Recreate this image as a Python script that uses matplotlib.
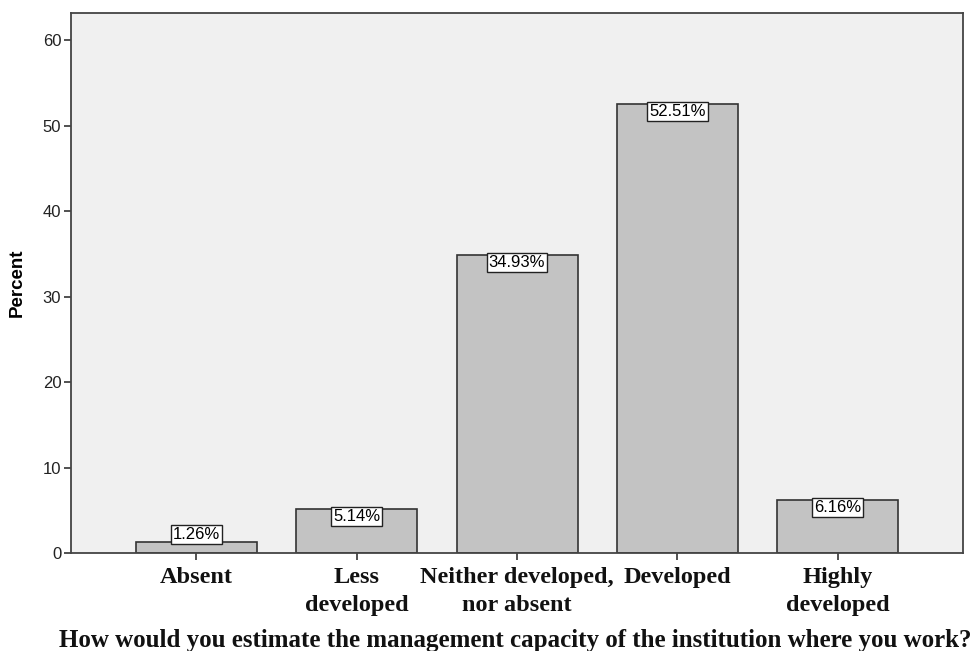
import matplotlib.pyplot as plt

# данные
categories = ["Absent", "Less\ndeveloped", "Neither developed,\nnor absent", "Developed", "Highly\ndeveloped"]
percents = [1.26, 5.14, 34.93, 52.51, 6.16]
bar_labels = ["1.26%", "5.14%", "34.93%", "52.51%", "6.16%"]
y_ticks = [0, 10, 20, 30, 40, 50, 60]

fig = plt.figure(figsize=(9.77, 6.51), dpi=100)
fig.patch.set_facecolor("white")
ax = fig.add_axes([0.0727, 0.1505, 0.913, 0.8295])
ax.set_facecolor("#f0f0f0")

x = list(range(len(categories)))
ax.bar(x, percents, width=0.754, color="#c3c3c3", edgecolor="#333333", linewidth=1.2, zorder=2)

# подписи в рамках
for xi, val, lab in zip(x, percents, bar_labels):
    va = "bottom" if val < 3 else "top"
    ax.text(xi, val, lab, ha="center", va=va, fontsize=12, family="Liberation Sans",
            bbox=dict(boxstyle="square,pad=0.12", facecolor="white", edgecolor="#222222", linewidth=1),
            zorder=3)

ax.set_xlim(-0.78, 4.78)
ax.set_ylim(0, 63.2)
ax.set_yticks(y_ticks)
ax.set_yticklabels([str(t) for t in y_ticks], fontsize=12, family="Liberation Sans", color="#222222")
ax.set_xticks(x)
ax.set_xticklabels(categories, fontsize=17.5, family="Liberation Serif", fontweight="bold",
                   linespacing=1.45, color="#111111")
ax.tick_params(axis="both", direction="out", length=5, width=1.2, color="#333333")
ax.tick_params(axis="x", pad=5)
ax.tick_params(axis="y", pad=2)

for s in ax.spines.values():
    s.set_color("#444444")
    s.set_linewidth(1.3)

ax.set_ylabel("Percent", fontsize=13.5, family="Liberation Sans", fontweight="bold", labelpad=12)
fig.text(0.527, 0.006, "How would you estimate the management capacity of the institution where you work?",
         ha="center", va="baseline", fontsize=18, family="Liberation Serif", fontweight="bold", color="#111111")

fig.savefig("out.png", dpi=100)
